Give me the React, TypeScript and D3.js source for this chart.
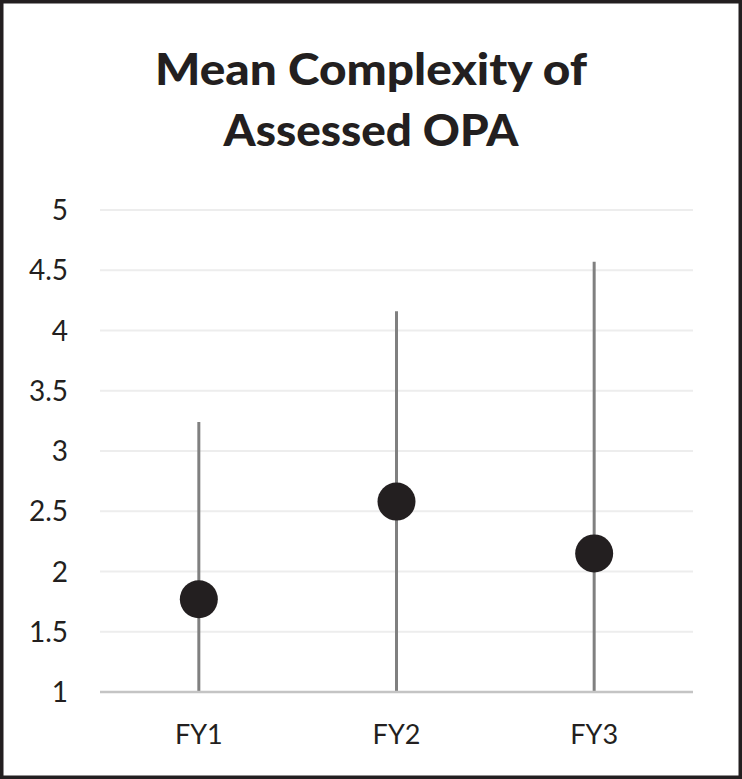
import React from "react";
import * as d3 from "d3";

const categories = ["FY1", "FY2", "FY3"];
const meanValues = [1.77, 2.58, 2.15];
const upperValues = [3.24, 4.16, 4.57];
const lowerValues = [1, 1, 1];
const yTicks = [1, 1.5, 2, 2.5, 3, 3.5, 4, 4.5, 5];
const titleLines = ["Mean Complexity of", "Assessed OPA"];
const titleWidths = [432, 295];

const W = 742;
const H = 779;
const FONT = "Lato, 'Open Sans', sans-serif";

export default function App() {
  const x = d3.scaleBand<string>().domain(categories).range([100, 693]);
  const y = d3.scaleLinear().domain([1, 5]).range([692, 210]);
  const cx = (c: string) => (x(c) ?? 0) + x.bandwidth() / 2;

  return (
    <svg
      width={W}
      height={H}
      style={{ position: "absolute", left: 0, top: 0, background: "#fff" }}
    >
      <rect x={0} y={0} width={W} height={H} fill="#fff" />
      <rect x={1.75} y={1.75} width={W - 3.5} height={H - 3.5} fill="none" stroke="#231f20" strokeWidth={3.5} />
      {titleLines.map((t, i) => (
        <text
          key={t}
          x={371}
          y={85 + i * 61}
          textAnchor="middle"
          fontFamily={FONT}
          fontWeight={900}
          fontSize={44}
          textLength={titleWidths[i]}
          lengthAdjust="spacingAndGlyphs"
          fill="#231f20"
        >
          {t}
        </text>
      ))}
      {yTicks.map((t) => (
        <g key={t}>
          {t !== 1 && (
            <line x1={100} x2={693} y1={y(t)} y2={y(t)} stroke="#ededed" strokeWidth={2} />
          )}
          <text
            x={68}
            y={y(t)}
            dy="0.36em"
            textAnchor="end"
            fontFamily={FONT}
            fontSize={28}
            fill="#231f20"
          >
            {t}
          </text>
        </g>
      ))}
      {categories.map((c, i) => (
        <line
          key={c + "-err"}
          x1={cx(c)}
          x2={cx(c)}
          y1={y(upperValues[i])}
          y2={y(lowerValues[i])}
          stroke="#808080"
          strokeWidth={3}
        />
      ))}
      <line x1={100} x2={693} y1={y(1)} y2={y(1)} stroke="#c4c4c4" strokeWidth={2.5} />
      {categories.map((c, i) => (
        <circle key={c + "-pt"} cx={cx(c)} cy={y(meanValues[i])} r={19} fill="#231f20" />
      ))}
      {categories.map((c) => (
        <text
          key={c + "-lbl"}
          x={cx(c)}
          y={744}
          textAnchor="middle"
          fontFamily={FONT}
          fontSize={27}
          fill="#231f20"
        >
          {c}
        </text>
      ))}
    </svg>
  );
}
